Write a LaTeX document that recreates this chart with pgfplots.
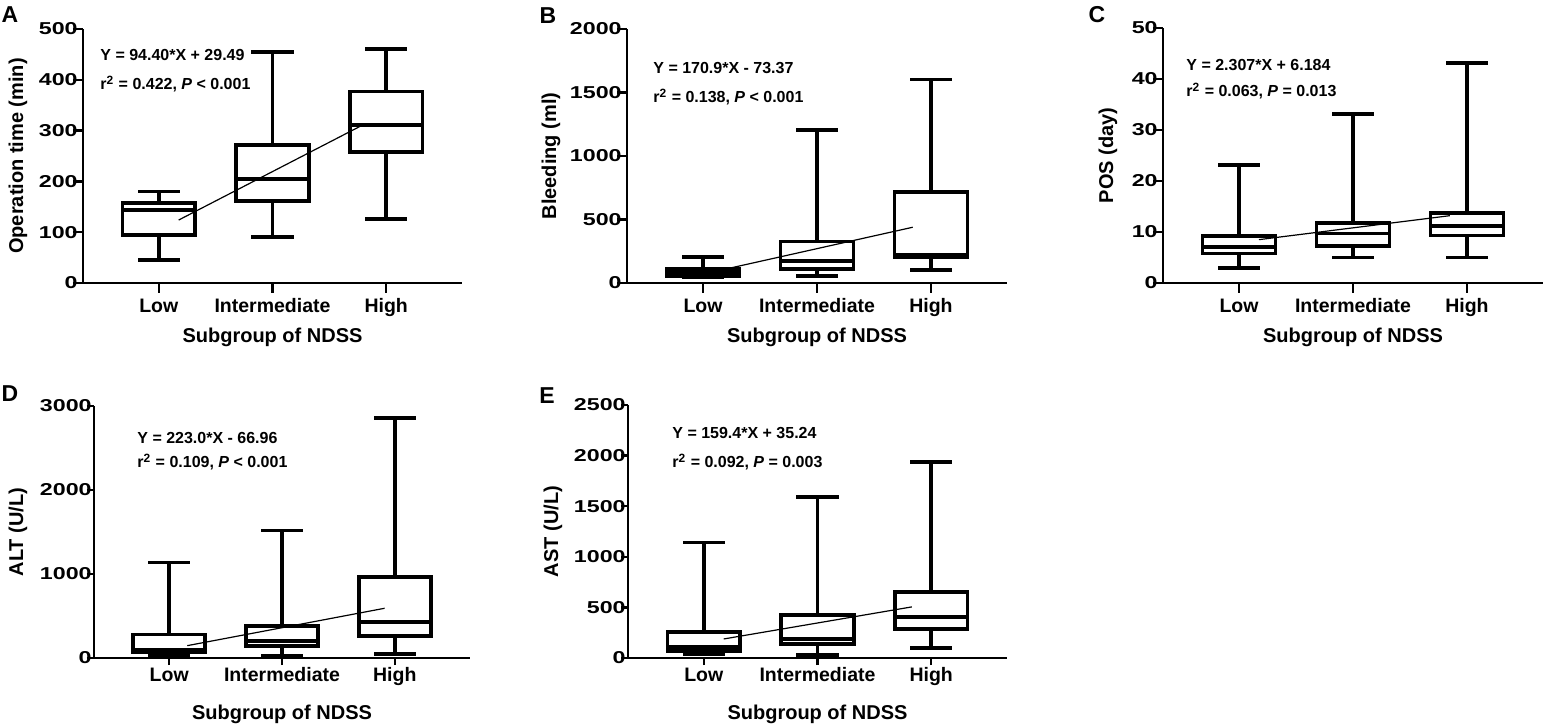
\documentclass[border=0pt]{standalone}
\usepackage{fontspec}
\setmainfont{Liberation Sans}
\newfontfamily\tickfont[FakeStretch=1.35]{Liberation Sans}
\usepackage{pgfplots}
\pgfplotsset{compat=1.18}
\pgfplotsset{
 panel/.style={
  scale only axis,
  anchor=south west,
  axis x line*=bottom, axis y line*=left,
  axis line style={line width=1.2pt},
  xmin=0.333, xmax=3.667, ymin=0,
  xtick={1,2,3}, xticklabels={Low,Intermediate,High},
  tick align=outside, major tick length=5pt,
  major tick style={black, line width=1.2pt},
  minor tick num=0,
  xticklabel style={font=\bfseries\fontsize{9.75}{11}\selectfont, anchor=base, inner sep=0pt, yshift=-10pt},
  yticklabel style={font=\tickfont\bfseries\fontsize{8.6}{10}\selectfont, anchor=east, inner sep=0pt, xshift=2.5pt},
  /pgf/number format/assume math mode=true,
  /pgf/number format/1000 sep={},
  scaled y ticks=false,
  ylabel style={font=\bfseries\fontsize{10}{12}\selectfont, anchor=center},
  xlabel style={font=\bfseries\fontsize{10}{12}\selectfont, anchor=center},
  clip=false,
  unbounded coords=jump,
  xlabel={Subgroup of NDSS},
 },
 bx/.style={black, line width=1.9pt, solid, mark=none, line join=miter, line cap=rect},
 fitline/.style={black, line width=0.6pt, mark=none},
}
% #1 position, #2 lower whisker, #3 Q1, #4 median, #5 Q3, #6 upper whisker
\newcommand\bxp[6]{\addplot[bx, x filter/.expression={x+#1}] coordinates {(-0.32,#3) (0.32,#3) (0.32,#5) (-0.32,#5) (-0.32,#3) (0,nan) (-0.32,#4) (0.32,#4) (0,nan) (0,#5) (0,#6) (0,nan) (-0.17,#6) (0.17,#6) (0,nan) (0,#3) (0,#2) (0,nan) (-0.17,#2) (0.17,#2)};}
\begin{document}
\begin{tikzpicture}
\useasboundingbox (0,0) rectangle (772pt,362pt);
\fill[white] (0,0) rectangle (772pt,362pt);

% ---------------- A
\begin{axis}[panel, at={(41.5pt,220.5pt)}, width=189.5pt, height=127pt,
  ymax=500, ytick={0,100,200,300,400,500},
  ylabel={Operation time (min)},
  ylabel style={at={(axis description cs:-0.1715,0.5)}},
  xlabel style={at={(axis description cs:0.5,-0.214)}}]
\bxp{1}{46}{94}{143}{158}{180}
\bxp{2}{90}{162}{205}{271}{455}
\bxp{3}{126}{258}{311}{377}{460}
\addplot[fitline] coordinates {(1.175,124) (2.785,310)};
\end{axis}

% ---------------- B
\begin{axis}[panel, at={(313.5pt,220.5pt)}, width=190pt, height=127pt,
  ymax=2000, ytick={0,500,1000,1500,2000},
  ylabel={Bleeding (ml)},
  ylabel style={at={(axis description cs:-0.2,0.5)}},
  xlabel style={at={(axis description cs:0.5,-0.214)}}]
\addplot[fill=black, draw=none, mark=none] coordinates {(0.68,55) (1.32,55) (1.32,108) (0.68,108) (0.68,55)};
\bxp{1}{50}{55}{80}{108}{202}
\bxp{2}{53}{110}{175}{326}{1204}
\bxp{3}{105}{200}{218}{717}{1603}
\addplot[fitline] coordinates {(1.175,105) (2.84,439)};
\end{axis}

% ---------------- C
\begin{axis}[panel, at={(581.5pt,220.5pt)}, width=190pt, height=127.5pt,
  ymax=50, ytick={0,10,20,30,40,50},
  ylabel={POS (day)},
  ylabel style={at={(axis description cs:-0.1447,0.5)}},
  xlabel style={at={(axis description cs:0.5,-0.213)}}]
\bxp{1}{3.0}{5.8}{7.0}{9.2}{23.1}
\bxp{2}{5.0}{7.3}{9.7}{11.8}{33.1}
\bxp{3}{5.0}{9.3}{11.1}{13.8}{43.1}
\addplot[fitline] coordinates {(1.175,8.5) (2.85,13.2)};
\end{axis}

% ---------------- D
\begin{axis}[panel, at={(47pt,33pt)}, width=188pt, height=126pt,
  ymax=3000, ytick={0,1000,2000,3000},
  major tick length=3.5pt,
  xticklabel style={yshift=2pt},
  ylabel={ALT (U/L)},
  ylabel style={at={(axis description cs:-0.2021,0.5)}},
  xlabel style={at={(axis description cs:0.5,-0.222)}}]
\bxp{1}{30}{71}{95}{280}{1136}
\bxp{2}{28}{145}{200}{380}{1518}
\bxp{3}{48}{262}{429}{965}{2853}
\addplot[fitline] coordinates {(1.16,147) (2.91,592)};
\end{axis}

% ---------------- E
\begin{axis}[panel, at={(314pt,33pt)}, width=189.5pt, height=126.5pt,
  ymax=2500, ytick={0,500,1000,1500,2000,2500},
  major tick length=3.5pt,
  xticklabel style={yshift=2pt},
  ylabel={AST (U/L)},
  ylabel style={at={(axis description cs:-0.198,0.5)}},
  xlabel style={at={(axis description cs:0.5,-0.221)}}]
\bxp{1}{36}{72}{109}{257}{1141}
\bxp{2}{26}{135}{191}{422}{1590}
\bxp{3}{102}{290}{406}{653}{1936}
\addplot[fitline] coordinates {(1.175,188) (2.83,505)};
\end{axis}

% panel letters
\begin{scope}[every node/.style={font=\bfseries\fontsize{11.5}{13}\selectfont, inner sep=0pt, anchor=center}]
\node at (5pt,354.5pt) {A};
\node at (274pt,354pt) {B};
\node at (548.5pt,354.5pt) {C};
\node at (5pt,165pt) {D};
\node at (273.5pt,164pt) {E};
\end{scope}

% equations
\begin{scope}[every node/.style={font=\bfseries\fontsize{8}{9.5}\selectfont, inner sep=0pt, anchor=base west}]
\node at (50pt,331.6pt) {Y = 94.40*X + 29.49};
\node at (50pt,317.1pt) {r\textsuperscript{2} = 0.422, \textit{P} < 0.001};
\node at (326.5pt,325.1pt) {Y = 170.9*X - 73.37};
\node at (326.5pt,310.6pt) {r\textsuperscript{2} = 0.138, \textit{P} < 0.001};
\node at (593pt,326.6pt) {Y = 2.307*X + 6.184};
\node at (593pt,313.6pt) {r\textsuperscript{2} = 0.063, \textit{P} = 0.013};
\node at (68.5pt,140.1pt) {Y = 223.0*X - 66.96};
\node at (68.5pt,128.1pt) {r\textsuperscript{2} = 0.109, \textit{P} < 0.001};
\node at (336pt,142.6pt) {Y = 159.4*X + 35.24};
\node at (336pt,128.1pt) {r\textsuperscript{2} = 0.092, \textit{P} = 0.003};
\end{scope}
\end{tikzpicture}
\end{document}
